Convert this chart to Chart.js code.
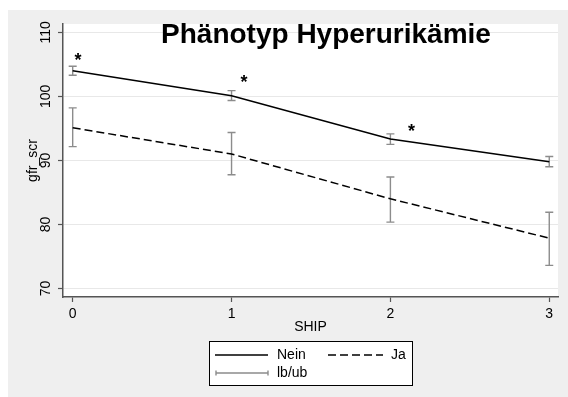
<!DOCTYPE html>
<html>
<head>
<meta charset="utf-8">
<script src="https://cdn.jsdelivr.net/npm/chart.js@4/dist/chart.umd.min.js"></script>
<style>
  html, body { margin: 0; padding: 0; background: #ffffff; }
  canvas { display: block; }
</style>
</head>
<body>
<canvas id="c" width="568" height="397"></canvas>
<script>
// SHIP waves on the x axis
const ship = [0, 1, 2, 3];
const xTicks = [0, 1, 2, 3];
const yTicks = [70, 80, 90, 100, 110];

// gfr_scr means by phenotype group, with lower/upper bounds
const neinMean = [104.0, 100.1, 93.35, 89.8];
const neinLo   = [103.3, 99.35, 92.5, 89.0];
const neinHi   = [104.7, 100.9, 94.15, 90.6];

const jaMean = [95.1, 91.0, 84.0, 77.85];
const jaLo   = [92.15, 87.75, 80.35, 73.6];
const jaHi   = [98.2, 94.35, 87.4, 81.9];

// significance markers placed above the "Nein" line
const starX = [0.033, 1.078, 2.133];
const starY = [106.16, 102.7, 95.0];

const titleText = 'Phänotyp Hyperurikämie';
const FONT = '"Liberation Sans", Arial, sans-serif';
const AXIS_COLOR = '#555555';
const BAR_COLOR = '#8c8c8c';

const pts = (xs, ys) => xs.map((x, i) => ({ x: x, y: ys[i] }));

// page background and white plot region
const backgroundPlugin = {
  id: 'panelBackground',
  beforeDraw(chart) {
    const { ctx, chartArea: a } = chart;
    ctx.save();
    ctx.fillStyle = '#ffffff';
    ctx.fillRect(0, 0, chart.width, chart.height);
    ctx.fillStyle = '#efefef';
    ctx.fillRect(8, 10, chart.width - 8, chart.height - 10);
    ctx.fillStyle = '#ffffff';
    ctx.fillRect(a.left, a.top, a.right - a.left, a.bottom - a.top);
    ctx.restore();
  }
};

// lb/ub whiskers for both groups
const errorBarPlugin = {
  id: 'errorBars',
  beforeDatasetsDraw(chart) {
    const { ctx, scales: { x, y } } = chart;
    const groups = [[neinLo, neinHi], [jaLo, jaHi]];
    ctx.save();
    ctx.strokeStyle = BAR_COLOR;
    ctx.lineWidth = 1.4;
    groups.forEach(([lo, hi]) => {
      ship.forEach((s, i) => {
        const px = x.getPixelForValue(s);
        const y0 = y.getPixelForValue(lo[i]);
        const y1 = y.getPixelForValue(hi[i]);
        ctx.beginPath();
        ctx.moveTo(px, y0); ctx.lineTo(px, y1);
        ctx.moveTo(px - 4, y0); ctx.lineTo(px + 4, y0);
        ctx.moveTo(px - 4, y1); ctx.lineTo(px + 4, y1);
        ctx.stroke();
      });
    });
    ctx.restore();
  }
};

// title, asterisks and the boxed key
const overlayPlugin = {
  id: 'overlay',
  afterDraw(chart) {
    const { ctx, scales: { x, y } } = chart;
    ctx.save();

    ctx.fillStyle = '#000000';
    ctx.font = 'bold 28px ' + FONT;
    ctx.textAlign = 'center';
    ctx.textBaseline = 'alphabetic';
    ctx.fillText(titleText, 326, 43);

    ctx.font = 'bold 18px ' + FONT;
    ctx.textBaseline = 'middle';
    starX.forEach((sx, i) => {
      ctx.fillText('*', x.getPixelForValue(sx), y.getPixelForValue(starY[i]) + 4);
    });

    // key box
    ctx.fillStyle = '#ffffff';
    ctx.fillRect(209.5, 341.5, 203, 44);
    ctx.strokeStyle = '#000000';
    ctx.lineWidth = 1;
    ctx.strokeRect(209.5, 341.5, 203, 44);

    const r1 = 355, r2 = 373;
    ctx.lineWidth = 1.5;
    ctx.beginPath(); ctx.moveTo(215, r1); ctx.lineTo(268, r1); ctx.stroke();
    ctx.setLineDash([8, 4]);
    ctx.beginPath(); ctx.moveTo(328, r1); ctx.lineTo(383, r1); ctx.stroke();
    ctx.setLineDash([]);
    ctx.strokeStyle = BAR_COLOR;
    ctx.lineWidth = 1.4;
    ctx.beginPath();
    ctx.moveTo(216, r2); ctx.lineTo(268, r2);
    ctx.moveTo(216, r2 - 2.5); ctx.lineTo(216, r2 + 2.5);
    ctx.moveTo(268, r2 - 2.5); ctx.lineTo(268, r2 + 2.5);
    ctx.stroke();

    ctx.fillStyle = '#000000';
    ctx.font = '14px ' + FONT;
    ctx.textAlign = 'left';
    ctx.textBaseline = 'middle';
    ctx.fillText(chart.data.datasets[0].label, 277, r1);
    ctx.fillText(chart.data.datasets[1].label, 391, r1);
    ctx.fillText('lb/ub', 277, r2);
    ctx.restore();
  }
};

new Chart(document.getElementById('c'), {
  type: 'line',
  data: {
    datasets: [
      {
        label: 'Nein',
        data: pts(ship, neinMean),
        borderColor: '#000000',
        borderWidth: 1.5,
        pointRadius: 0,
        tension: 0,
        fill: false
      },
      {
        label: 'Ja',
        data: pts(ship, jaMean),
        borderColor: '#000000',
        borderWidth: 1.5,
        borderDash: [8, 4],
        pointRadius: 0,
        tension: 0,
        fill: false
      }
    ]
  },
  options: {
    responsive: false,
    animation: false,
    devicePixelRatio: 1,
    layout: { padding: { left: 0, top: 24, right: 10, bottom: 0 } },
    plugins: {
      legend: { display: false },
      tooltip: { enabled: false },
      title: { display: false }
    },
    scales: {
      x: {
        type: 'linear',
        min: -0.061,
        max: 3.055,
        afterBuildTicks: s => { s.ticks = xTicks.map(v => ({ value: v })); },
        afterFit: s => { s.height = 100; },
        border: { display: true, color: AXIS_COLOR, width: 1.5 },
        grid: { drawOnChartArea: false, drawTicks: true, tickLength: 5, tickColor: AXIS_COLOR, tickWidth: 1.2 },
        ticks: { color: '#000000', font: { family: FONT, size: 14 }, padding: 4, maxRotation: 0, autoSkip: false },
        title: { display: true, text: 'SHIP', color: '#000000', font: { family: FONT, size: 14 }, padding: { top: 0, bottom: 61 } }
      },
      y: {
        type: 'linear',
        min: 68.66,
        max: 111.31,
        afterBuildTicks: s => { s.ticks = yTicks.map(v => ({ value: v })); },
        afterFit: s => { s.width = 63; },
        border: { display: true, color: AXIS_COLOR, width: 1.5 },
        grid: { color: '#e8e8e8', lineWidth: 1, drawTicks: true, tickLength: 5, tickColor: AXIS_COLOR, tickWidth: 1.2 },
        ticks: { color: '#000000', font: { family: FONT, size: 14 }, padding: 0, minRotation: 90, maxRotation: 90, crossAlign: 'center', autoSkip: false },
        title: { display: true, text: 'gfr_scr', color: '#000000', font: { family: FONT, size: 14 }, padding: { top: 25, bottom: 0 } }
      }
    }
  },
  plugins: [backgroundPlugin, errorBarPlugin, overlayPlugin]
});
</script>
</body>
</html>
